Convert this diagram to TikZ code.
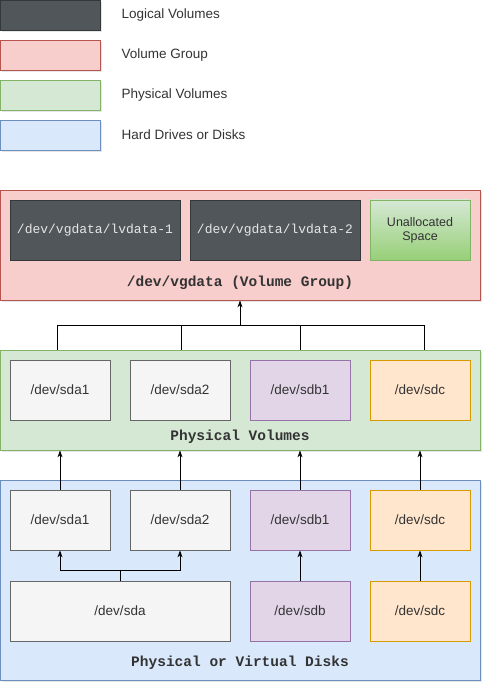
\documentclass[tikz,border=0pt]{standalone}
\usepackage{fontspec}
\setmainfont{Liberation Sans}
\setmonofont{Liberation Mono}
\usetikzlibrary{arrows.meta,shadows}

\definecolor{txtgray}{HTML}{333333}
\definecolor{lvfill}{HTML}{50565A}
\definecolor{lvline}{HTML}{33383B}
\definecolor{lvtext}{HTML}{E6E6E6}
\definecolor{vgfill}{HTML}{F8CECC}
\definecolor{vgline}{HTML}{B85450}
\definecolor{pvfill}{HTML}{D5E8D4}
\definecolor{pvline}{HTML}{82B366}
\definecolor{unfill}{HTML}{97D077}
\definecolor{hdfill}{HTML}{DAE8FC}
\definecolor{hdline}{HTML}{6C8EBF}
\definecolor{grfill}{HTML}{F5F5F5}
\definecolor{grline}{HTML}{666666}
\definecolor{pufill}{HTML}{E1D5E7}
\definecolor{puline}{HTML}{9673A6}
\definecolor{orfill}{HTML}{FFE6CC}
\definecolor{orline}{HTML}{D79B00}

\tikzset{
  box/.style={draw, rectangle, inner sep=0pt, line width=0.8pt, text=txtgray,
    align=center, font=\fontsize{13.5}{15.5}\selectfont},
  shade/.style={drop shadow={opacity=0.2, shadow xshift=2pt, shadow yshift=-2pt}},
  lvbox/.style={box, fill=lvfill, draw=lvline, text=lvtext,
    minimum width=170, minimum height=60, font=\ttfamily\fontsize{13}{15}\selectfont},
  unbox/.style={box, top color=pvfill, bottom color=unfill, draw=pvline,
    minimum width=100, minimum height=60, font=\fontsize{12.5}{14}\selectfont},
  vgbox/.style={box, fill=vgfill, draw=vgline},
  pvbox/.style={box, fill=pvfill, draw=pvline},
  hdbox/.style={box, fill=hdfill, draw=hdline},
  grbox/.style={box, fill=grfill, draw=grline, minimum width=100, minimum height=60},
  pubox/.style={box, fill=pufill, draw=puline, minimum width=100, minimum height=60},
  orbox/.style={box, fill=orfill, draw=orline, minimum width=100, minimum height=60},
  grouplabel/.style={text=txtgray, font=\ttfamily\bfseries\fontsize{14.5}{16}\selectfont},
  legendtext/.style={anchor=west, text=txtgray, font=\fontsize{13.5}{16}\selectfont},
  arrow/.style={-{Stealth[length=7pt,width=5pt]}, line width=0.8pt},
  wire/.style={line width=0.8pt}
}

\begin{document}
\begin{tikzpicture}[x=1pt,y=-1pt]
  \useasboundingbox (0,0) rectangle (492,692);

  % legend
  \node[box, shade, fill=lvfill, draw=lvline, minimum width=100, minimum height=30] (keylv) at (50,15) {};
  \node[box, shade, fill=vgfill, draw=vgline, minimum width=100, minimum height=30] (keyvg) at (50,55) {};
  \node[box, shade, fill=pvfill, draw=pvline, minimum width=100, minimum height=30] (keypv) at (50,95) {};
  \node[box, shade, fill=hdfill, draw=hdline, minimum width=100, minimum height=30] (keyhd) at (50,135) {};
  \node[legendtext] (keylvtext) at (118,15) {Logical Volumes};
  \node[legendtext] (keyvgtext) at (118,55) {Volume Group};
  \node[legendtext] (keypvtext) at (118,95) {Physical Volumes};
  \node[legendtext] (keyhdtext) at (118,135) {Hard Drives or Disks};

  % volume group
  \node[vgbox, shade, minimum width=480, minimum height=110] (vg) at (240,245) {};
  \node[lvbox] (lv1) at (95,230) {/dev/vgdata/lvdata-1};
  \node[lvbox] (lv2) at (275,230) {/dev/vgdata/lvdata-2};
  \node[unbox] (free) at (420,230) {Unallocated\\Space};
  \node[grouplabel] (vglabel) at (240,283) {/dev/vgdata (Volume Group)};

  % physical volumes
  \node[pvbox, shade, minimum width=480, minimum height=100] (pv) at (240,400) {};
  \node[grbox] (pvsda1) at (60,390) {/dev/sda1};
  \node[grbox] (pvsda2) at (180,390) {/dev/sda2};
  \node[pubox] (pvsdb1) at (300,390) {/dev/sdb1};
  \node[orbox] (pvsdc) at (420,390) {/dev/sdc};
  \node[grouplabel] (pvlabel) at (240,437) {Physical Volumes};

  % disks
  \node[hdbox, shade, minimum width=480, minimum height=200] (hd) at (240,580) {};
  \node[grbox] (hdsda1) at (60,520) {/dev/sda1};
  \node[grbox] (hdsda2) at (180,520) {/dev/sda2};
  \node[pubox] (hdsdb1) at (300,520) {/dev/sdb1};
  \node[orbox] (hdsdc1) at (420,520) {/dev/sdc};
  \node[grbox, minimum width=220] (sda) at (120,611) {/dev/sda};
  \node[pubox] (sdb) at (300,611) {/dev/sdb};
  \node[orbox] (sdc) at (420,611) {/dev/sdc};
  \node[grouplabel] (hdlabel) at (240,663) {Physical or Virtual Disks};

  % pv to vg
  \coordinate (bus) at (240,325);
  \coordinate (bus1) at (57,325);
  \coordinate (bus4) at (424,325);
  \draw[wire] (bus1) -- (bus4);
  \foreach \x in {57,181,300,424}
    \draw[wire] (\x,325) -- (\x,325 |- pv.north);
  \draw[arrow] (bus) -- (vg.south);

  % disks to pv
  \foreach \n in {hdsda1,hdsda2,hdsdb1,hdsdc1}
    \draw[arrow] (\n.north) -- (\n.north |- pv.south);

  % partitions
  \coordinate (split) at (120,570);
  \draw[wire] (sda.north) -- (split);
  \draw[arrow] (split) -| (hdsda1.south);
  \draw[arrow] (split) -| (hdsda2.south);
  \draw[arrow] (sdb) -- (hdsdb1);
  \draw[arrow] (sdc) -- (hdsdc1);
\end{tikzpicture}
\end{document}
